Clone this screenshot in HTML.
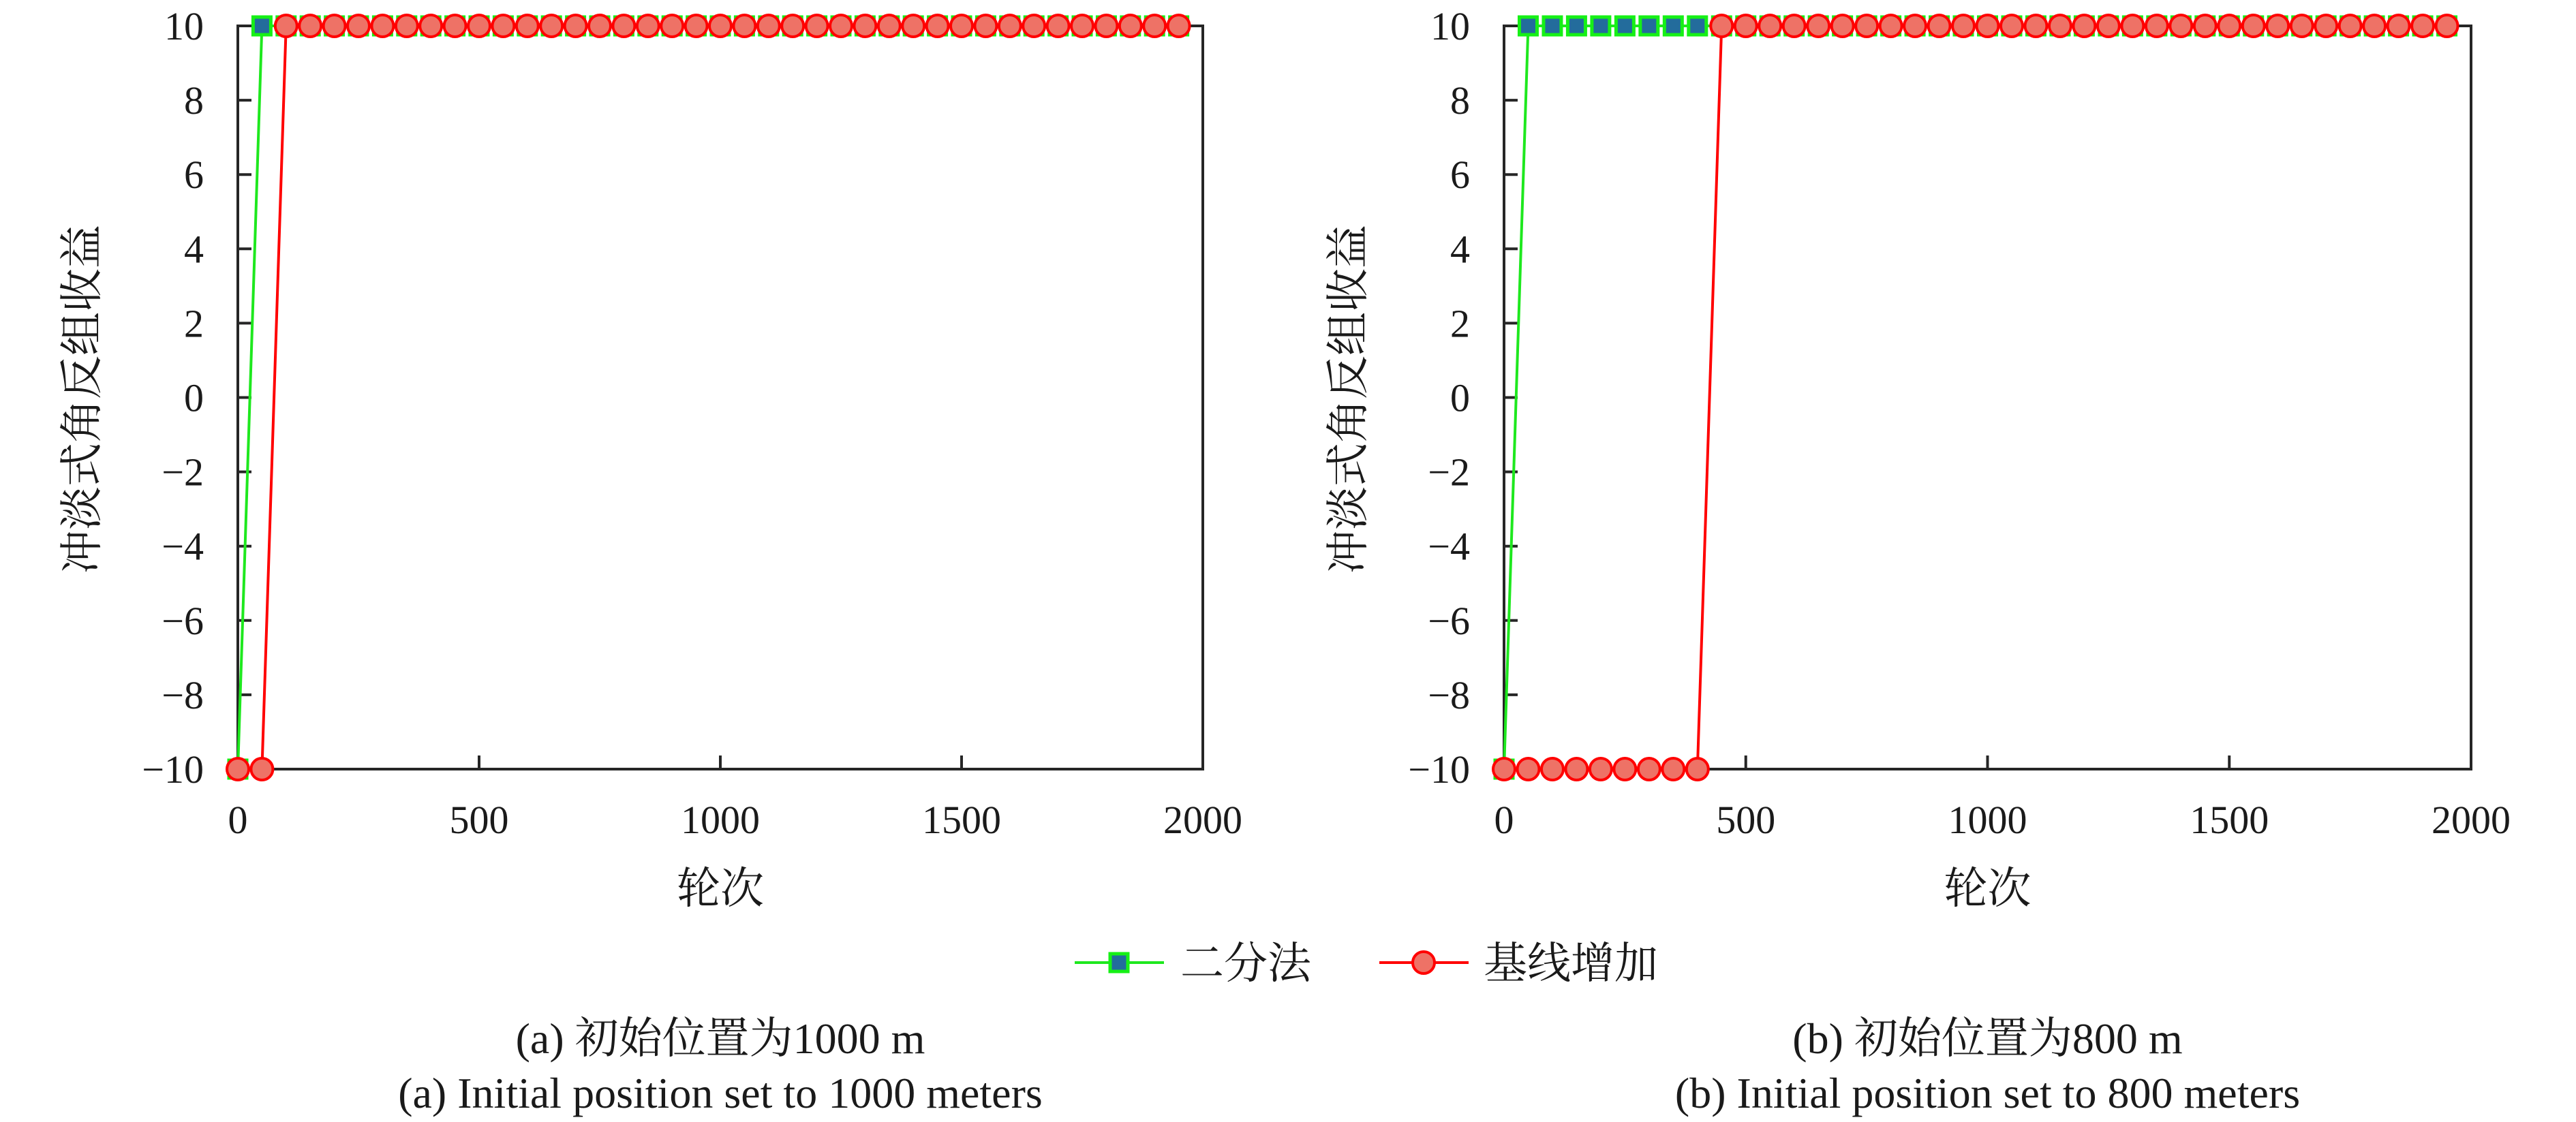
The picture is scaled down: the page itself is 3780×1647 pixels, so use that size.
<!DOCTYPE html>
<html><head><meta charset="utf-8"><style>
html,body{margin:0;padding:0;background:#fff;}
svg text{font-family:"Liberation Serif","Noto Serif CJK SC",serif;fill:#1a1a1a;}
</style></head><body>
<svg id="s" width="3780" height="1642" xmlns="http://www.w3.org/2000/svg"></svg>
<script>
const s=document.getElementById('s');let h='';
function plot(L,R,redSwitch,greenSwitch,ylx,cap1,cap2){
  const T=38,B=1129,W=R-L,H=B-T;
  const X=v=>L+v/2000*W, Y=v=>B-(v+10)/20*H;
  for(let v=-10;v<=10;v+=2){const y=Y(v);h+=`<line x1="${L}" y1="${y}" x2="${L+20}" y2="${y}" stroke="#262626" stroke-width="4"/>`;
    h+=`<text x="${L-50}" y="${y+20}" font-size="58" text-anchor="end">${v<0?'\u2212'+(-v):v}</text>`;}
  for(let v=0;v<=2000;v+=500){const x=X(v);h+=`<line x1="${x}" y1="${B}" x2="${x}" y2="${B-20}" stroke="#262626" stroke-width="4"/>`;
    h+=`<text x="${x}" y="${B+94}" font-size="58" text-anchor="middle">${v}</text>`;}
  h+=`<rect x="${L}" y="${T}" width="${W}" height="${H}" fill="none" stroke="#262626" stroke-width="4"/>`;
  let gp=[];for(let v=0;v<=1950;v+=50)gp.push([X(v),Y(v<greenSwitch?-10:10)]);
  h+=`<polyline points="${gp.map(p=>p.join(',')).join(' ')}" fill="none" stroke="#1ee81e" stroke-width="4"/>`;
  gp.forEach(p=>h+=`<rect x="${p[0]-13}" y="${p[1]-13}" width="26" height="26" fill="#236c9c" stroke="#16f016" stroke-width="5"/>`);
  let rp=[];for(let v=0;v<=1950;v+=50)rp.push([X(v),Y(v<redSwitch?-10:10)]);
  h+=`<polyline points="${rp.map(p=>p.join(',')).join(' ')}" fill="none" stroke="#ff0000" stroke-width="4"/>`;
  rp.forEach(p=>h+=`<circle cx="${p[0]}" cy="${p[1]}" r="16" fill="#ee7266" stroke="#ff0000" stroke-width="4"/>`);
  const cx=(L+R)/2;
  h+=`<text x="${cx}" y="${1326}" font-size="64" text-anchor="middle">轮次</text>`;
  h+=`<text transform="translate(${ylx},586) rotate(-90)" font-size="64" text-anchor="middle">冲淡式角反组收益</text>`;
  h+=`<text x="${cx}" y="1546" font-size="64" text-anchor="middle">${cap1}</text>`;
  h+=`<text x="${cx}" y="1626" font-size="64" text-anchor="middle">${cap2}</text>`;
}
plot(349,1765,100,50,142,'(a) 初始位置为1000 m','(a) Initial position set to 1000 meters');
plot(2207,3626,450,50,2000,'(b) 初始位置为800 m','(b) Initial position set to 800 meters');
h+=`<line x1="1577" y1="1413" x2="1708" y2="1413" stroke="#1ee81e" stroke-width="4"/>`;
h+=`<rect x="1629" y="1400" width="26" height="26" fill="#236c9c" stroke="#16f016" stroke-width="5"/>`;
h+=`<text x="1732" y="1436" font-size="64">二分法</text>`;
h+=`<line x1="2024" y1="1413" x2="2155" y2="1413" stroke="#ff0000" stroke-width="4"/>`;
h+=`<circle cx="2089" cy="1413" r="16" fill="#ee7266" stroke="#ff0000" stroke-width="4"/>`;
h+=`<text x="2177" y="1436" font-size="64">基线增加</text>`;
s.innerHTML=h;
</script>
</body></html>
